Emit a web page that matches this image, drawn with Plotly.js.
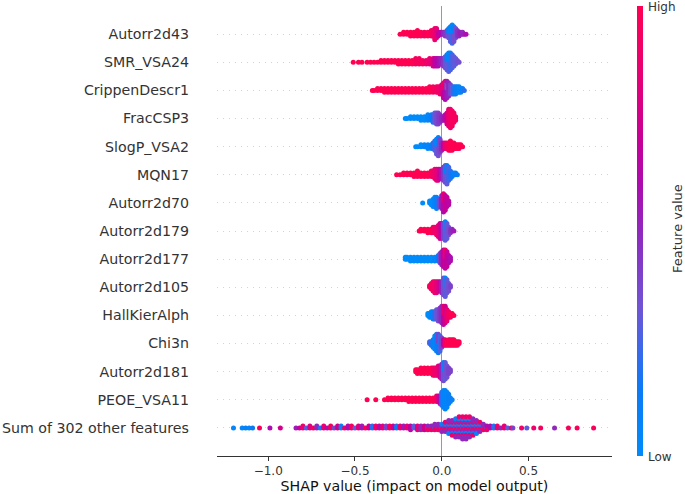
<!DOCTYPE html>
<html>
<head>
<meta charset="utf-8">
<script src="https://cdn.plot.ly/plotly-3.0.1.min.js"></script>
<style>html,body{margin:0;padding:0;background:#fff;}#chart{width:685px;height:494px;}</style>
</head>
<body>
<div id="chart"></div>
<script>
// Feature names, top to bottom
const features = ["Autorr2d43","SMR_VSA24","CrippenDescr1","FracCSP3","SlogP_VSA2","MQN17","Autorr2d70","Autorr2d179","Autorr2d177","Autorr2d105","HallKierAlph","Chi3n","Autorr2d181","PEOE_VSA11","Sum of 302 other features"];
const xTicks = [-1.0, -0.5, 0.0, 0.5];
const colorbarLabels = ["Low", "High"];

// Each entry: [SHAP value, number of samples, feature value (0 = low, 1 = high)]
const autorr2d43 = [[-0.24,1,1],[-0.22,2,1],[-0.20,2,1],[-0.18,3,1],[-0.16,3,1],[-0.14,4,1],[-0.12,3,1],[-0.10,3,0.95],[-0.08,3,1],[-0.06,4,0.95],[-0.05,4,0.9],[-0.04,7,0.9],[-0.03,6,0.85],[-0.02,3,0.7],[-0.01,2,0.65],[0.00,2,0.6],[0.01,2,0.5],[0.02,3,0.45],[0.03,4,0.4],[0.04,3,0.35],[0.04,3,0.1],[0.05,5,0.3],[0.05,4,0.05],[0.06,6,0.25],[0.06,5,0.05],[0.07,5,0.35],[0.07,4,0.1],[0.08,6,0.35],[0.09,4,0.45],[0.10,3,0.5],[0.11,2,0.55],[0.12,2,0.5],[0.13,1,0.55],[0.14,1,0.6]];
const smrVsa24 = [[-0.51,1,1],[-0.48,1,1],[-0.46,1,1],[-0.43,1,1],[-0.41,1,1],[-0.39,1,1],[-0.37,1,1],[-0.35,2,1],[-0.33,2,1],[-0.31,2,1],[-0.29,2,1],[-0.27,2,1],[-0.25,3,1],[-0.23,3,1],[-0.21,3,1],[-0.19,3,1],[-0.17,3,1],[-0.15,4,0.95],[-0.13,4,0.95],[-0.11,3,0.95],[-0.09,3,0.9],[-0.07,4,0.85],[-0.05,5,0.8],[-0.04,5,0.7],[-0.03,5,0.65],[-0.02,5,0.6],[-0.01,4,0.55],[0.00,4,0.5],[0.01,5,0.45],[0.02,7,0.35],[0.03,5,0.3],[0.03,4,0.1],[0.04,6,0.3],[0.04,5,0.05],[0.05,5,0.25],[0.05,5,0.05],[0.06,8,0.25],[0.07,6,0.3],[0.08,4,0.3],[0.09,2,0.35],[0.10,1,0.35]];
const crippenDescr1 = [[-0.40,1,1],[-0.39,1,1],[-0.37,2,1],[-0.35,2,1],[-0.33,3,1],[-0.31,3,1],[-0.29,3,1],[-0.27,3,1],[-0.25,3,1],[-0.23,3,1],[-0.21,3,1],[-0.19,3,1],[-0.17,3,1],[-0.15,3,1],[-0.13,3,1],[-0.11,3,1],[-0.09,3,1],[-0.07,4,1],[-0.05,4,0.95],[-0.03,4,0.95],[-0.02,4,0.9],[-0.01,5,0.9],[0.00,6,0.8],[0.01,5,0.7],[0.01,4,0.9],[0.02,6,0.6],[0.02,5,0.85],[0.03,6,0.55],[0.03,4,0.3],[0.04,8,0.5],[0.05,6,0.4],[0.06,5,0.3],[0.07,5,0.2],[0.08,5,0.1],[0.09,4,0.1],[0.10,4,0.05],[0.11,3,0.05],[0.12,2,0.1],[0.13,1,0.2]];
const fracCsp3 = [[-0.21,1,0],[-0.20,1,0],[-0.18,2,0],[-0.16,2,0],[-0.14,2,0],[-0.12,3,0],[-0.10,3,0],[-0.08,4,0.05],[-0.06,4,0.1],[-0.05,5,0.15],[-0.04,6,0.3],[-0.03,7,0.35],[-0.02,7,0.4],[-0.01,5,0.45],[0.00,3,0.5],[0.01,3,0.55],[0.02,4,0.6],[0.03,7,0.75],[0.04,10,0.85],[0.05,11,0.9],[0.06,9,0.95],[0.07,6,0.95],[0.08,3,0.95]];
const slogPVsa2 = [[-0.15,1,0],[-0.14,1,0],[-0.12,2,0],[-0.10,2,0.05],[-0.08,3,0.05],[-0.06,3,0.1],[-0.05,4,0.15],[-0.04,6,0.25],[-0.03,5,0.3],[-0.03,4,0.05],[-0.02,6,0.35],[-0.02,5,0.1],[-0.01,8,0.4],[0.00,5,0.5],[0.01,4,0.7],[0.02,4,0.85],[0.03,4,0.9],[0.04,5,0.95],[0.05,6,1],[0.06,5,1],[0.07,4,1],[0.08,3,1],[0.09,3,1],[0.10,3,1],[0.11,2,1],[0.12,1,1]];
const mqn17 = [[-0.26,1,1],[-0.24,1,1],[-0.22,2,1],[-0.20,2,1],[-0.18,2,1],[-0.16,3,1],[-0.14,4,1],[-0.12,3,1],[-0.10,3,1],[-0.08,3,1],[-0.06,4,0.95],[-0.05,4,0.9],[-0.04,6,0.9],[-0.03,7,0.85],[-0.02,7,0.8],[-0.01,6,0.7],[0.00,6,0.55],[0.01,8,0.45],[0.02,6,0.35],[0.02,4,0.1],[0.03,6,0.3],[0.03,5,0.1],[0.04,8,0.25],[0.05,5,0.2],[0.06,3,0.15],[0.07,2,0.1],[0.08,2,0.1],[0.09,1,0.1]];
const autorr2d70 = [[-0.11,1,0],[-0.07,2,0],[-0.06,3,0],[-0.05,5,0],[-0.04,6,0.05],[-0.03,7,0.1],[-0.02,5,0.2],[-0.01,5,0.4],[0.00,8,0.55],[0.01,6,0.6],[0.01,5,0.85],[0.02,9,0.7],[0.03,6,0.7],[0.04,3,0.65]];
const autorr2d179 = [[-0.13,1,1],[-0.12,2,1],[-0.10,2,1],[-0.08,3,1],[-0.06,3,1],[-0.05,4,0.95],[-0.04,4,0.9],[-0.03,5,0.9],[-0.02,7,0.85],[-0.01,9,0.75],[0.00,8,0.6],[0.01,9,0.4],[0.02,6,0.3],[0.02,5,0.05],[0.03,9,0.3],[0.04,5,0.35],[0.05,3,0.45],[0.06,2,0.5],[0.07,1,0.55]];
const autorr2d177 = [[-0.21,2,0],[-0.20,2,0],[-0.18,3,0],[-0.16,3,0],[-0.14,3,0],[-0.12,3,0],[-0.10,3,0],[-0.08,3,0],[-0.06,3,0],[-0.04,3,0.05],[-0.02,4,0.15],[-0.01,6,0.4],[0.00,8,0.55],[0.01,10,0.7],[0.02,6,0.65],[0.02,5,0.9],[0.03,9,0.7],[0.04,5,0.65],[0.05,3,0.6]];
const autorr2d105 = [[-0.07,2,0.95],[-0.06,4,0.95],[-0.05,6,0.9],[-0.04,7,0.9],[-0.03,7,0.85],[-0.02,6,0.8],[-0.01,6,0.7],[0.00,7,0.5],[0.01,10,0.35],[0.02,6,0.3],[0.02,5,0.05],[0.03,8,0.3],[0.04,5,0.35],[0.05,2,0.4]];
const hallKierAlph = [[-0.08,2,0],[-0.07,3,0],[-0.06,4,0.05],[-0.05,5,0.1],[-0.04,5,0.2],[-0.03,6,0.3],[-0.02,7,0.35],[-0.01,8,0.45],[0.00,10,0.5],[0.01,6,0.65],[0.01,5,0.9],[0.02,10,0.75],[0.03,7,0.85],[0.04,4,0.9],[0.05,3,0.95],[0.06,2,1],[0.07,1,1]];
const chi3n = [[-0.07,2,0.25],[-0.06,3,0.2],[-0.05,5,0.1],[-0.04,8,0.05],[-0.03,10,0.1],[-0.02,6,0.15],[-0.02,5,0.4],[-0.01,9,0.25],[0.00,6,0.4],[0.01,4,0.7],[0.02,4,0.9],[0.03,3,1],[0.04,4,1],[0.05,4,1],[0.06,4,1],[0.07,4,1],[0.08,3,1],[0.09,3,1],[0.10,2,1]];
const autorr2d181 = [[-0.15,2,1],[-0.14,3,1],[-0.12,4,1],[-0.10,4,1],[-0.08,4,1],[-0.06,4,1],[-0.05,5,0.95],[-0.04,5,0.9],[-0.03,5,0.9],[-0.02,6,0.85],[-0.01,7,0.75],[0.00,9,0.5],[0.01,6,0.35],[0.01,5,0.05],[0.02,10,0.3],[0.03,7,0.35],[0.04,4,0.4],[0.05,2,0.4]];
const peoeVsa11 = [[-0.43,1,1],[-0.38,1,1],[-0.33,1,1],[-0.31,2,1],[-0.29,2,1],[-0.27,2,1],[-0.25,2,1],[-0.23,2,1],[-0.21,2,1],[-0.19,3,1],[-0.17,3,1],[-0.15,3,1],[-0.13,3,1],[-0.11,3,1],[-0.09,3,1],[-0.07,3,1],[-0.05,3,1],[-0.03,4,0.95],[-0.02,4,0.8],[-0.01,5,0.6],[0.00,8,0.2],[0.01,10,0.05],[0.02,11,0.05],[0.03,9,0.05],[0.04,6,0.1],[0.05,3,0.1],[0.06,1,0.1]];
const sumOther = [[-1.20,1,0.05],[-1.15,1,0.05],[-1.13,1,0.1],[-1.11,1,0.05],[-1.09,1,0.15],[-1.05,1,0.95],[-0.99,1,0.6],[-0.93,1,0.75],[-0.84,1,0.55],
 [-0.82,1,0.7],[-0.80,2,0.9],[-0.78,1,0.3],[-0.76,2,0.8],[-0.74,1,0.95],[-0.72,2,0.5],[-0.70,1,0.2],[-0.68,2,0.85],[-0.66,1,0.6],[-0.64,2,0.95],[-0.62,1,0.4],[-0.60,2,0.75],[-0.58,2,0.1],[-0.56,1,0.9],[-0.54,2,0.6],[-0.52,2,0.95],[-0.50,1,0.3],[-0.48,2,0.8],[-0.46,2,0.55],[-0.44,1,1],[-0.42,2,0.7],[-0.40,2,0.2],[-0.38,2,0.9],[-0.36,2,0.6],[-0.34,2,0.85],[-0.32,2,0.4],[-0.30,2,0.95],[-0.28,2,0.7],[-0.26,2,0.15],[-0.24,2,0.85],[-0.22,2,0.55],[-0.20,2,0.9],[-0.18,3,0.65],[-0.16,2,0.3],[-0.14,3,0.85],[-0.12,3,0.5],[-0.10,3,0.75],
 [-0.08,1,0.1],[-0.08,1,0.5],[-0.08,1,0.9],[-0.06,1,0.1],[-0.06,1,0.5],[-0.06,1,0.9],[-0.04,1,0.1],[-0.04,2,0.5],[-0.04,1,0.9],[-0.02,1,0.1],[-0.02,2,0.5],[-0.02,1,0.9],
 [0.00,2,0.1],[0.00,2,0.5],[0.00,1,0.9],[0.02,2,0.1],[0.02,2,0.5],[0.02,2,0.9],[0.04,3,0.1],[0.04,3,0.5],[0.04,2,0.9],[0.06,3,0.1],[0.06,3,0.5],[0.06,3,0.9],
 [0.08,4,0.1],[0.08,4,0.5],[0.08,3,0.9],[0.10,4,0.1],[0.10,4,0.5],[0.10,4,0.9],[0.12,4,0.1],[0.12,5,0.5],[0.12,4,0.9],[0.14,4,0.1],[0.14,5,0.5],[0.14,4,0.9],
 [0.16,4,0.1],[0.16,4,0.5],[0.16,4,0.9],[0.18,3,0.1],[0.18,4,0.5],[0.18,3,0.9],[0.20,3,0.1],[0.20,3,0.5],[0.20,2,0.9],[0.22,2,0.1],[0.22,2,0.5],[0.22,2,0.9],
 [0.24,1,0.1],[0.24,2,0.5],[0.24,1,0.9],[0.26,1,0.2],[0.26,1,0.6],[0.26,1,0.9],
 [0.28,2,0.6],[0.30,2,0.2],[0.32,2,0.9],[0.34,1,0.5],[0.36,2,0.85],[0.38,1,0.3],[0.40,1,0.95],[0.41,1,0.4],[0.46,1,0.9],[0.49,1,0.3],[0.53,1,0.9],[0.57,1,0.95],[0.65,1,0.5],[0.73,1,0.95],[0.78,1,0.95],[0.875,1,0.95]];

const rows = [autorr2d43, smrVsa24, crippenDescr1, fracCsp3, slogPVsa2, mqn17, autorr2d70, autorr2d179, autorr2d177, autorr2d105, hallKierAlph, chi3n, autorr2d181, peoeVsa11, sumOther];

// Beeswarm layout (positions only): points sharing a bin are stacked alternately above/below the row.
const ROW_PX = 28.14, STEP = 1.85 / ROW_PX;
const xs = [], ys = [], cs = [];
const nRows = rows.length;
rows.forEach((groups, i) => {
  const rowY = nRows - 1 - i;
  const bins = new Map();
  groups.forEach(g => {
    const key = Math.round(g[0] * 100);
    if (!bins.has(key)) bins.set(key, []);
    bins.get(key).push(g);
  });
  [...bins.keys()].sort((a, b) => a - b).forEach(k => {
    const list = bins.get(k);
    const maxN = Math.max(...list.map(g => g[1]));
    const order = [];
    for (let j = 0; j < maxN; j++) list.forEach(g => { if (j < g[1]) order.push(g); });
    order.forEach((g, layer) => {
      const off = Math.ceil(layer / 2) * (layer % 2 ? 1 : -1);
      xs.push(g[0]); ys.push(rowY + off * STEP); cs.push(g[2]);
    });
  });
});

const redBlue = [[0,'rgb(0,139,250)'],[0.15,'rgb(12,122,246)'],[0.22,'rgb(50,108,238)'],[0.33,'rgb(112,84,212)'],[0.48,'rgb(140,46,192)'],[0.6,'rgb(172,12,176)'],[0.7,'rgb(198,0,152)'],[0.85,'rgb(232,0,116)'],[1,'rgb(255,0,82)']];

const FONT = 'DejaVu Sans, Verdana, sans-serif';
const trace = {
  type: 'scatter', mode: 'markers', x: xs, y: ys, hoverinfo: 'skip',
  marker: {
    size: 5, color: cs, cmin: 0, cmax: 1, colorscale: redBlue, line: {width: 0},
    showscale: true,
    colorbar: {
      thickness: 5.5, thicknessmode: 'pixels', len: 1, lenmode: 'fraction',
      x: 1.0625, xanchor: 'left', xpad: 0, y: 0.5, yanchor: 'middle', ypad: 0,
      outlinewidth: 0, showticklabels: false, ticks: ''
    }
  }
};

// Plot area in pixels: left 217, width 395, top 6, height 450
const px2x = p => (p - 217) / 395;
const py2y = p => (456 - p) / 450;

const layout = {
  width: 685, height: 494,
  margin: {l: 217, r: 73, t: 6, b: 38},
  paper_bgcolor: '#fff', plot_bgcolor: '#fff',
  showlegend: false,
  font: {family: FONT, color: '#333'},
  xaxis: {
    range: [-1.295, 0.981], tickvals: xTicks, tickformat: '.1f',
    ticks: 'outside', ticklen: 4, tickwidth: 1, tickcolor: '#333',
    showline: true, linecolor: '#333', linewidth: 1, mirror: false,
    showgrid: false, zeroline: true, zerolinecolor: '#999', zerolinewidth: 1.3,
    tickfont: {family: FONT, size: 12, color: '#333'},
    title: {text: 'SHAP value (impact on model output)', standoff: 4, font: {family: FONT, size: 14.2, color: '#111'}}
  },
  yaxis: {
    range: [-1, nRows], tickvals: features.map((f, i) => nRows - 1 - i), ticktext: features,
    ticks: '', showline: false, zeroline: false,
    showgrid: true, gridcolor: '#c8c8c8', gridwidth: 0.8, griddash: '1.2px,4.8px',
    ticklabelstandoff: 27,
    tickfont: {family: FONT, size: 14.2, color: '#333'}
  },
  annotations: [
    {xref: 'paper', yref: 'paper', x: px2x(646), y: py2y(7), xanchor: 'left', yanchor: 'middle', showarrow: false,
     text: colorbarLabels[1], font: {family: FONT, size: 12, color: '#333'}},
    {xref: 'paper', yref: 'paper', x: px2x(646), y: py2y(457), xanchor: 'left', yanchor: 'middle', showarrow: false,
     text: colorbarLabels[0], font: {family: FONT, size: 12, color: '#333'}},
    {xref: 'paper', yref: 'paper', x: px2x(677), y: py2y(229), xanchor: 'center', yanchor: 'middle', showarrow: false,
     textangle: -90, text: 'Feature value', font: {family: FONT, size: 13, color: '#333'}}
  ]
};

Plotly.newPlot('chart', [trace], layout, {displayModeBar: false, staticPlot: true});
</script>
</body>
</html>
